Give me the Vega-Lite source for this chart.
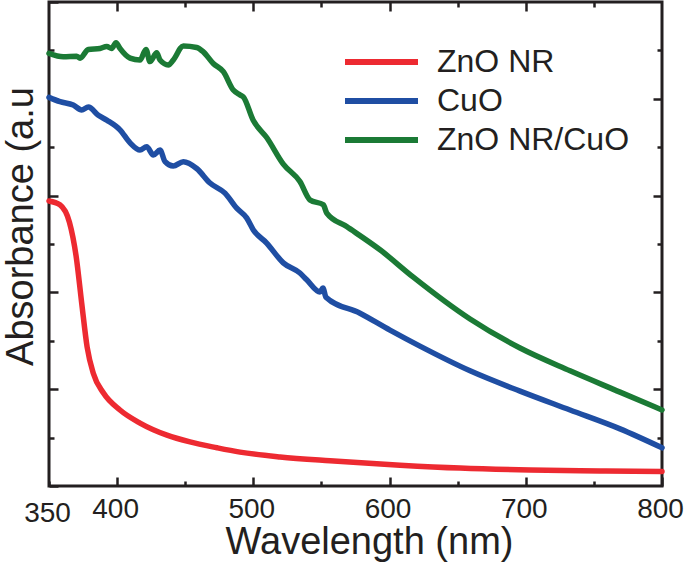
{
  "$schema": "https://vega.github.io/schema/vega-lite/v6.json",
  "width": 613,
  "height": 484,
  "autosize": "none",
  "padding": {"left": 49, "top": 2, "right": 23, "bottom": 76},
  "background": "white",
  "config": {
    "view": {"stroke": "#231f20", "strokeWidth": 3},
    "axis": {
      "domain": false,
      "grid": false,
      "tickColor": "#231f20",
      "tickWidth": 2.5,
      "labelColor": "#231f20",
      "labelFont": "Liberation Sans",
      "titleFont": "Liberation Sans",
      "titleColor": "#231f20",
      "titleFontWeight": "normal"
    }
  },
  "data": {
    "values": [
      {"sample": "ZnO NR", "wl": 350, "abs": 0.589},
      {"sample": "ZnO NR", "wl": 358, "abs": 0.581},
      {"sample": "ZnO NR", "wl": 365, "abs": 0.545},
      {"sample": "ZnO NR", "wl": 370, "abs": 0.473},
      {"sample": "ZnO NR", "wl": 374, "abs": 0.378},
      {"sample": "ZnO NR", "wl": 378, "abs": 0.287},
      {"sample": "ZnO NR", "wl": 382.5, "abs": 0.233},
      {"sample": "ZnO NR", "wl": 390, "abs": 0.192},
      {"sample": "ZnO NR", "wl": 402.1, "abs": 0.157},
      {"sample": "ZnO NR", "wl": 416.8, "abs": 0.130},
      {"sample": "ZnO NR", "wl": 436.6, "abs": 0.105},
      {"sample": "ZnO NR", "wl": 453.5, "abs": 0.091},
      {"sample": "ZnO NR", "wl": 473.3, "abs": 0.079},
      {"sample": "ZnO NR", "wl": 490.2, "abs": 0.070},
      {"sample": "ZnO NR", "wl": 519.6, "abs": 0.060},
      {"sample": "ZnO NR", "wl": 556.3, "abs": 0.052},
      {"sample": "ZnO NR", "wl": 607.7, "abs": 0.043},
      {"sample": "ZnO NR", "wl": 651.7, "abs": 0.037},
      {"sample": "ZnO NR", "wl": 703.1, "abs": 0.033},
      {"sample": "ZnO NR", "wl": 754.5, "abs": 0.031},
      {"sample": "ZnO NR", "wl": 800, "abs": 0.030},

      {"sample": "CuO", "wl": 350, "abs": 0.803},
      {"sample": "CuO", "wl": 358.1, "abs": 0.794},
      {"sample": "CuO", "wl": 367.8, "abs": 0.787},
      {"sample": "CuO", "wl": 374.0, "abs": 0.777},
      {"sample": "CuO", "wl": 378.9, "abs": 0.783},
      {"sample": "CuO", "wl": 386.2, "abs": 0.766},
      {"sample": "CuO", "wl": 392.4, "abs": 0.756},
      {"sample": "CuO", "wl": 402.1, "abs": 0.736},
      {"sample": "CuO", "wl": 409.5, "abs": 0.709},
      {"sample": "CuO", "wl": 416.8, "abs": 0.694},
      {"sample": "CuO", "wl": 421.7, "abs": 0.701},
      {"sample": "CuO", "wl": 426.6, "abs": 0.684},
      {"sample": "CuO", "wl": 431.5, "abs": 0.694},
      {"sample": "CuO", "wl": 435.2, "abs": 0.670},
      {"sample": "CuO", "wl": 441.2, "abs": 0.661},
      {"sample": "CuO", "wl": 448.6, "abs": 0.670},
      {"sample": "CuO", "wl": 458.4, "abs": 0.656},
      {"sample": "CuO", "wl": 468.2, "abs": 0.626},
      {"sample": "CuO", "wl": 479.2, "abs": 0.605},
      {"sample": "CuO", "wl": 487.8, "abs": 0.574},
      {"sample": "CuO", "wl": 495.1, "abs": 0.554},
      {"sample": "CuO", "wl": 500.0, "abs": 0.529},
      {"sample": "CuO", "wl": 509.8, "abs": 0.502},
      {"sample": "CuO", "wl": 522.0, "abs": 0.461},
      {"sample": "CuO", "wl": 534.2, "abs": 0.440},
      {"sample": "CuO", "wl": 539.2, "abs": 0.426},
      {"sample": "CuO", "wl": 548.9, "abs": 0.401},
      {"sample": "CuO", "wl": 551.1, "abs": 0.409},
      {"sample": "CuO", "wl": 553.3, "abs": 0.390},
      {"sample": "CuO", "wl": 578.3, "abs": 0.357},
      {"sample": "CuO", "wl": 600.3, "abs": 0.322},
      {"sample": "CuO", "wl": 622.3, "abs": 0.289},
      {"sample": "CuO", "wl": 659.1, "abs": 0.238},
      {"sample": "CuO", "wl": 695.8, "abs": 0.196},
      {"sample": "CuO", "wl": 732.5, "abs": 0.157},
      {"sample": "CuO", "wl": 769.2, "abs": 0.118},
      {"sample": "CuO", "wl": 800, "abs": 0.079},

      {"sample": "ZnO NR/CuO", "wl": 350, "abs": 0.894},
      {"sample": "ZnO NR/CuO", "wl": 360.5, "abs": 0.887},
      {"sample": "ZnO NR/CuO", "wl": 370.3, "abs": 0.888},
      {"sample": "ZnO NR/CuO", "wl": 372.8, "abs": 0.884},
      {"sample": "ZnO NR/CuO", "wl": 378.9, "abs": 0.902},
      {"sample": "ZnO NR/CuO", "wl": 387.4, "abs": 0.904},
      {"sample": "ZnO NR/CuO", "wl": 392.4, "abs": 0.908},
      {"sample": "ZnO NR/CuO", "wl": 396.0, "abs": 0.904},
      {"sample": "ZnO NR/CuO", "wl": 399.2, "abs": 0.916},
      {"sample": "ZnO NR/CuO", "wl": 402.1, "abs": 0.904},
      {"sample": "ZnO NR/CuO", "wl": 409.5, "abs": 0.884},
      {"sample": "ZnO NR/CuO", "wl": 416.8, "abs": 0.880},
      {"sample": "ZnO NR/CuO", "wl": 421.2, "abs": 0.902},
      {"sample": "ZnO NR/CuO", "wl": 424.1, "abs": 0.877},
      {"sample": "ZnO NR/CuO", "wl": 429.1, "abs": 0.895},
      {"sample": "ZnO NR/CuO", "wl": 431.5, "abs": 0.880},
      {"sample": "ZnO NR/CuO", "wl": 437.6, "abs": 0.870},
      {"sample": "ZnO NR/CuO", "wl": 441.2, "abs": 0.880},
      {"sample": "ZnO NR/CuO", "wl": 448.6, "abs": 0.909},
      {"sample": "ZnO NR/CuO", "wl": 458.4, "abs": 0.906},
      {"sample": "ZnO NR/CuO", "wl": 463.3, "abs": 0.897},
      {"sample": "ZnO NR/CuO", "wl": 470.6, "abs": 0.873},
      {"sample": "ZnO NR/CuO", "wl": 478.0, "abs": 0.856},
      {"sample": "ZnO NR/CuO", "wl": 485.3, "abs": 0.818},
      {"sample": "ZnO NR/CuO", "wl": 490.2, "abs": 0.808},
      {"sample": "ZnO NR/CuO", "wl": 492.6, "abs": 0.804},
      {"sample": "ZnO NR/CuO", "wl": 500.0, "abs": 0.755},
      {"sample": "ZnO NR/CuO", "wl": 509.8, "abs": 0.720},
      {"sample": "ZnO NR/CuO", "wl": 522.0, "abs": 0.665},
      {"sample": "ZnO NR/CuO", "wl": 534.2, "abs": 0.629},
      {"sample": "ZnO NR/CuO", "wl": 541.6, "abs": 0.591},
      {"sample": "ZnO NR/CuO", "wl": 551.4, "abs": 0.581},
      {"sample": "ZnO NR/CuO", "wl": 553.9, "abs": 0.564},
      {"sample": "ZnO NR/CuO", "wl": 568.5, "abs": 0.536},
      {"sample": "ZnO NR/CuO", "wl": 593.0, "abs": 0.488},
      {"sample": "ZnO NR/CuO", "wl": 617.2, "abs": 0.432},
      {"sample": "ZnO NR/CuO", "wl": 659.1, "abs": 0.345},
      {"sample": "ZnO NR/CuO", "wl": 695.8, "abs": 0.285},
      {"sample": "ZnO NR/CuO", "wl": 732.5, "abs": 0.238},
      {"sample": "ZnO NR/CuO", "wl": 769.2, "abs": 0.194},
      {"sample": "ZnO NR/CuO", "wl": 800, "abs": 0.157}
    ]
  },
  "layer": [
    {
      "mark": {"type": "line", "strokeWidth": 5.5, "strokeCap": "round", "strokeJoin": "round", "interpolate": "monotone"},
      "encoding": {
        "x": {
          "field": "wl", "type": "quantitative",
          "scale": {"domain": [350, 800], "nice": false, "zero": false},
          "axis": {
            "orient": "bottom",
            "values": [350, 400, 450, 500, 550, 600, 650, 700, 750, 800],
            "labelExpr": "datum.value % 100 === 0 || datum.value === 350 ? datum.label : ''",
            "tickSize": {"condition": {"test": "datum.value % 100 === 0", "value": -9}, "value": -5},
            "labelFontSize": 28,
            "labelFlush": false,
            "labelOffset": -2,
            "labelBaseline": "alphabetic",
            "labelPadding": 40,
            "title": "Wavelength (nm)",
            "titleFontSize": 38,
            "titleX": 320,
            "titleY": 67,
            "titleAlign": "center",
            "titleBaseline": "alphabetic"
          }
        },
        "y": {
          "field": "abs", "type": "quantitative",
          "scale": {"domain": [0, 1], "nice": false, "zero": false},
          "axis": {
            "orient": "left",
            "values": [0, 0.1, 0.2, 0.3, 0.4, 0.5, 0.6, 0.7, 0.8, 0.9, 1],
            "labels": false,
            "tickSize": {"condition": {"test": "round(datum.value * 10) % 2 === 0", "value": -9}, "value": -5},
            "title": "Absorbance (a.u",
            "titleFontSize": 38,
            "titleAngle": -90,
            "titleX": -17,
            "titleY": 224,
            "titleAlign": "center",
            "titleBaseline": "alphabetic"
          }
        },
        "color": {
          "field": "sample", "type": "nominal",
          "scale": {"domain": ["ZnO NR", "CuO", "ZnO NR/CuO"], "range": ["#ed2a31", "#1f4ea3", "#1b7a35"]},
          "legend": {
            "orient": "none",
            "legendX": 316.5,
            "legendY": 44,
            "title": null,
            "padding": 0,
            "symbolType": "M-3.65,0L3.65,0",
            "symbolStrokeWidth": 6,
            "symbolSize": 400,
            "labelFont": "Liberation Sans",
            "labelFontSize": 32,
            "labelColor": "#231f20",
            "labelOffset": 39.5,
            "rowPadding": 7,
            "labelLimit": 400
          }
        }
      }
    },
    {
      "mark": {"type": "line", "opacity": 0},
      "encoding": {
        "x": {
          "field": "wl", "type": "quantitative",
          "scale": {"domain": [350, 800], "nice": false, "zero": false},
          "axis": {
            "orient": "top",
            "values": [400, 450, 500, 550, 600, 650, 700, 750],
            "labels": false,
            "title": null,
            "tickSize": {"condition": {"test": "datum.value % 100 === 0", "value": -9}, "value": -5}
          }
        },
        "y": {
          "field": "abs", "type": "quantitative",
          "scale": {"domain": [0, 1], "nice": false, "zero": false},
          "axis": {
            "orient": "right",
            "values": [0.1, 0.2, 0.3, 0.4, 0.5, 0.6, 0.7, 0.8, 0.9],
            "labels": false,
            "title": null,
            "tickSize": {"condition": {"test": "round(datum.value * 10) % 2 === 0", "value": -9}, "value": -5}
          }
        },
        "detail": {"field": "sample", "type": "nominal"}
      }
    }
  ],
  "resolve": {"axis": {"x": "independent", "y": "independent"}}
}
